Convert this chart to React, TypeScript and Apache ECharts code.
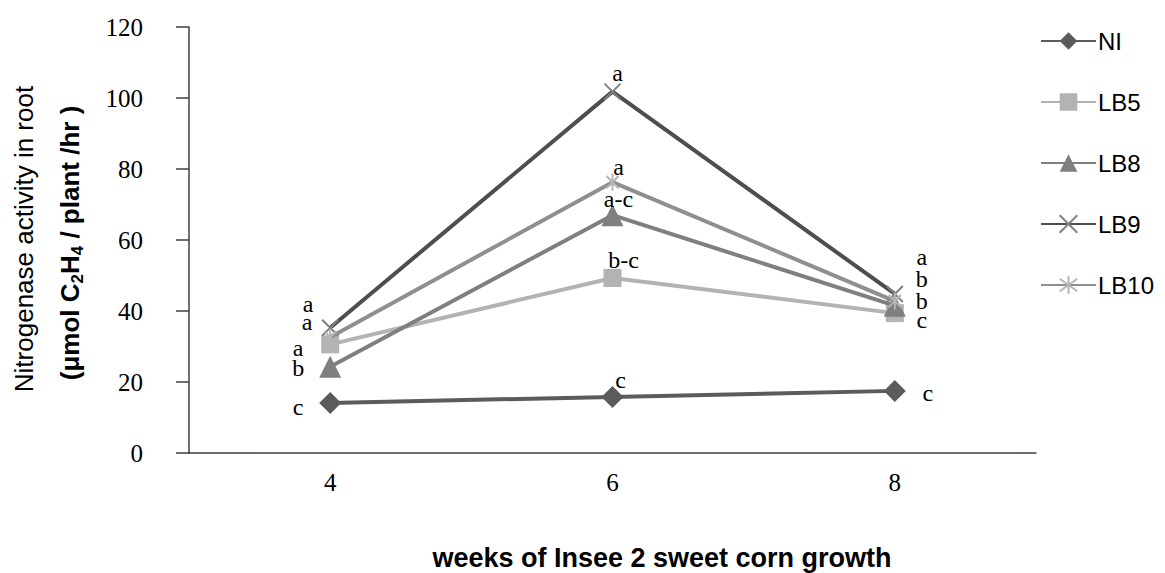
import React, { useEffect, useRef } from "react";
import * as echarts from "echarts";

const WEEKS = ["4", "6", "8"];
const SERIES_NAMES = ["NI", "LB5", "LB8", "LB9", "LB10"];
const NI = [14.1, 15.8, 17.5];
const LB5 = [30.6, 49.3, 39.4];
const LB8 = [24.3, 67.0, 41.5];
const LB9 = [35.3, 101.8, 44.8];
const LB10 = [32.6, 76.3, 42.8];
const NI_LETTERS = ["c", "c", "c"];
const LB5_LETTERS = ["a", "b-c", "c"];
const LB8_LETTERS = ["b", "a-c", "b"];
const LB9_LETTERS = ["a", "a", "a"];
const LB10_LETTERS = ["a", "a", "b"];
const Y_TICKS = { min: 0, max: 120, interval: 20 };

const SERIF = "Liberation Serif";
const SANS = "Liberation Sans";

export default function App() {
  const ref = useRef<HTMLDivElement>(null);
  useEffect(() => {
    document.body.style.margin = "0";
    const chart = echarts.init(ref.current!, null, { renderer: "svg" });

    const styles = [
      { color: "#5b5b5b", marker: "#5b5b5b", symbol: "diamond", size: 22, offsets: [[-32, 4], [8, -17], [33, 2]] },
      { color: "#b3b3b3", marker: "#b3b3b3", symbol: "rect", size: 18, offsets: [[-32, 4], [11, -18], [27, 7]] },
      { color: "#7f7f7f", marker: "#7f7f7f", symbol: "triangle", size: 22, offsets: [[-32, 1], [6, -16], [27, -5]] },
      { color: "#4e4e4e", marker: "#808080", symbol: "path://M0,0L10,10M10,0L0,10", size: 16, offsets: [[-22, -24], [5, -19], [27, -37]] },
      { color: "#8f8f8f", marker: "#b5b5b5", symbol: "path://M0,0L10,10M10,0L0,10M5,-2L5,12", size: 17, offsets: [[-23, -15], [6, -15], [27, -22]] },
    ];
    const values = [NI, LB5, LB8, LB9, LB10];
    const letters = [NI_LETTERS, LB5_LETTERS, LB8_LETTERS, LB9_LETTERS, LB10_LETTERS];

    const series = SERIES_NAMES.map((name, si) => {
      const st = styles[si];
      return {
        name,
        type: "line",
        symbol: st.symbol,
        symbolSize: st.size,
        symbolKeepAspect: true,
        z: 2 + si,
        lineStyle: { color: st.color, width: 4 },
        itemStyle: { color: st.marker, borderColor: st.marker, borderWidth: st.symbol.startsWith("path") ? 2 : 0 },
        data: values[si].map((v, i) => ({
          value: v,
          label: {
            show: true,
            position: "inside",
            offset: st.offsets[i],
            formatter: letters[si][i],
            fontFamily: SERIF,
            fontSize: 24,
            color: "#000",
          },
        })),
      };
    });

    chart.setOption({
      animation: false,
      grid: { left: 189, right: 129, top: 27, bottom: 120 },
      legend: {
        orient: "vertical",
        left: 1035,
        top: 24,
        itemWidth: 55,
        itemHeight: 22,
        itemGap: 37,
        data: SERIES_NAMES,
        textStyle: { fontFamily: SANS, fontSize: 24, color: "#000", lineHeight: 20, padding: [0, 0, 0, -3] },
      },
      xAxis: {
        type: "category",
        data: WEEKS,
        boundaryGap: true,
        axisLine: { lineStyle: { color: "#3f3f3f", width: 1.5 } },
        axisTick: { show: false },
        axisLabel: { fontFamily: SERIF, fontSize: 25, color: "#000", margin: 17 },
      },
      yAxis: {
        type: "value",
        min: Y_TICKS.min,
        max: Y_TICKS.max,
        interval: Y_TICKS.interval,
        splitLine: { show: false },
        axisLine: { show: true, lineStyle: { color: "#3f3f3f", width: 1.5 } },
        axisTick: { show: true, length: 13, lineStyle: { color: "#3f3f3f", width: 1.5 } },
        axisLabel: { fontFamily: SERIF, fontSize: 25, color: "#000", margin: 46 },
      },
      graphic: [
        {
          type: "text",
          x: 24,
          y: 239,
          rotation: Math.PI / 2,
          style: {
            text: "Nitrogenase activity in root",
            fontFamily: SANS,
            fontSize: 26,
            fill: "#000",
            align: "center",
            verticalAlign: "middle",
          },
        },
        {
          type: "text",
          x: 70,
          y: 243,
          rotation: Math.PI / 2,
          style: {
            text: "(μmol C{sub|2}H{sub|4} / plant /hr )",
            fontFamily: SANS,
            fontSize: 26,
            fontWeight: "bold",
            fill: "#000",
            align: "center",
            verticalAlign: "middle",
            lineHeight: 32,
            rich: {
              sub: { fontFamily: SANS, fontSize: 17, fontWeight: "bold", fill: "#000", verticalAlign: "bottom", lineHeight: 17 },
            },
          },
        },
        {
          type: "text",
          x: 662,
          y: 558,
          style: {
            text: "weeks of Insee 2 sweet corn growth",
            fontFamily: SANS,
            fontSize: 27,
            fontWeight: "bold",
            fill: "#000",
            align: "center",
            verticalAlign: "middle",
          },
        },
      ],
      series,
    });
    return () => chart.dispose();
  }, []);
  return <div ref={ref} style={{ width: 1165, height: 573 }} />;
}
